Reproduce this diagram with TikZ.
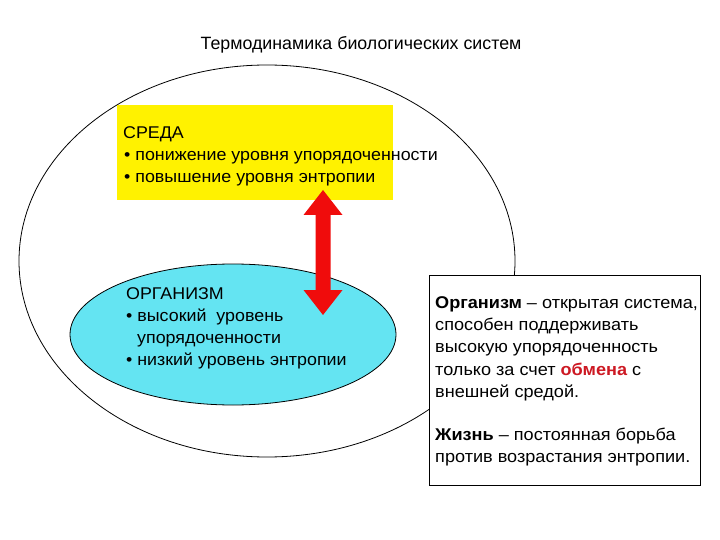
\documentclass[tikz,border=0pt]{standalone}
\usepackage{fontspec}
\setmainfont{Liberation Sans}
\newfontfamily\widefont[FakeStretch=1.05]{Liberation Sans}
\newfontfamily\widerfont[FakeStretch=1.065]{Liberation Sans}
\usetikzlibrary{shapes.geometric}
\definecolor{cyanfill}{RGB}{100,228,242}
\definecolor{arrowred}{RGB}{240,12,12}
\definecolor{textred}{RGB}{205,25,35}
\begin{document}
\begin{tikzpicture}[x=1pt,y=-1pt,
  line/.style={inner sep=0pt, anchor=base west, font=\widefont\fontsize{17}{20}\selectfont},
  infoline/.style={inner sep=0pt, anchor=base west, font=\widerfont\fontsize{17}{20}\selectfont},
  outline/.style={draw=black, line width=0.8pt}]
\useasboundingbox[fill=white] (0,0) rectangle (720,540);
% title
\node[inner sep=0pt, anchor=base, font=\fontsize{17.8}{20}\selectfont] (title) at (361,50) {Термодинамика биологических систем};
% big ellipse
\node[ellipse, outline, minimum width=496pt, minimum height=392pt, inner sep=0pt] (env) at (267,261) {};
% yellow box
\node[fill=yellow, minimum width=276pt, minimum height=95pt, inner sep=0pt] (sreda) at (255,152.5) {};
\node[line] (s1) at (123,139) {СРЕДА};
\node[line] (s2) at (124,161) {• понижение уровня упорядоченности};
\node[line] (s3) at (124,182.5) {• повышение уровня энтропии};
% cyan ellipse
\node[ellipse, outline, fill=cyanfill, minimum width=326pt, minimum height=141pt, inner sep=0pt] (org) at (233,334.5) {};
\node[line] (o1) at (126,299) {ОРГАНИЗМ};
\node[line] (o2) at (126,321) {• высокий\ \ уровень};
\node[line] (o3) at (137,343) {упорядоченности};
\node[line] (o4) at (126,365) {• низкий уровень энтропии};
% double arrow
\coordinate (atop) at (323,190);
\coordinate (abot) at (323,315);
\fill[arrowred] (atop) -- (342.5,215) -- (330.5,215) -- (330.5,290) -- (342.5,290)
  -- (abot) -- (303.5,290) -- (315.5,290) -- (315.5,215) -- (303.5,215) -- cycle;
% info box
\node[outline, fill=white, minimum width=271pt, minimum height=210pt, inner sep=0pt] (info) at (564.5,380) {};
\node[infoline] (i1) at (435,308) {\textbf{Организм} – открытая система,};
\node[infoline] (i2) at (435,330) {способен поддерживать};
\node[infoline] (i3) at (435,352.5) {высокую упорядоченность};
\node[infoline] (i4) at (435,375) {только за счет {\color{textred}\bfseries обмена} с};
\node[infoline] (i5) at (435,397) {внешней средой.};
\node[infoline] (i6) at (435,440) {\textbf{Жизнь} – постоянная борьба};
\node[infoline] (i7) at (435,462) {против возрастания энтропии.};
\end{tikzpicture}
\end{document}
